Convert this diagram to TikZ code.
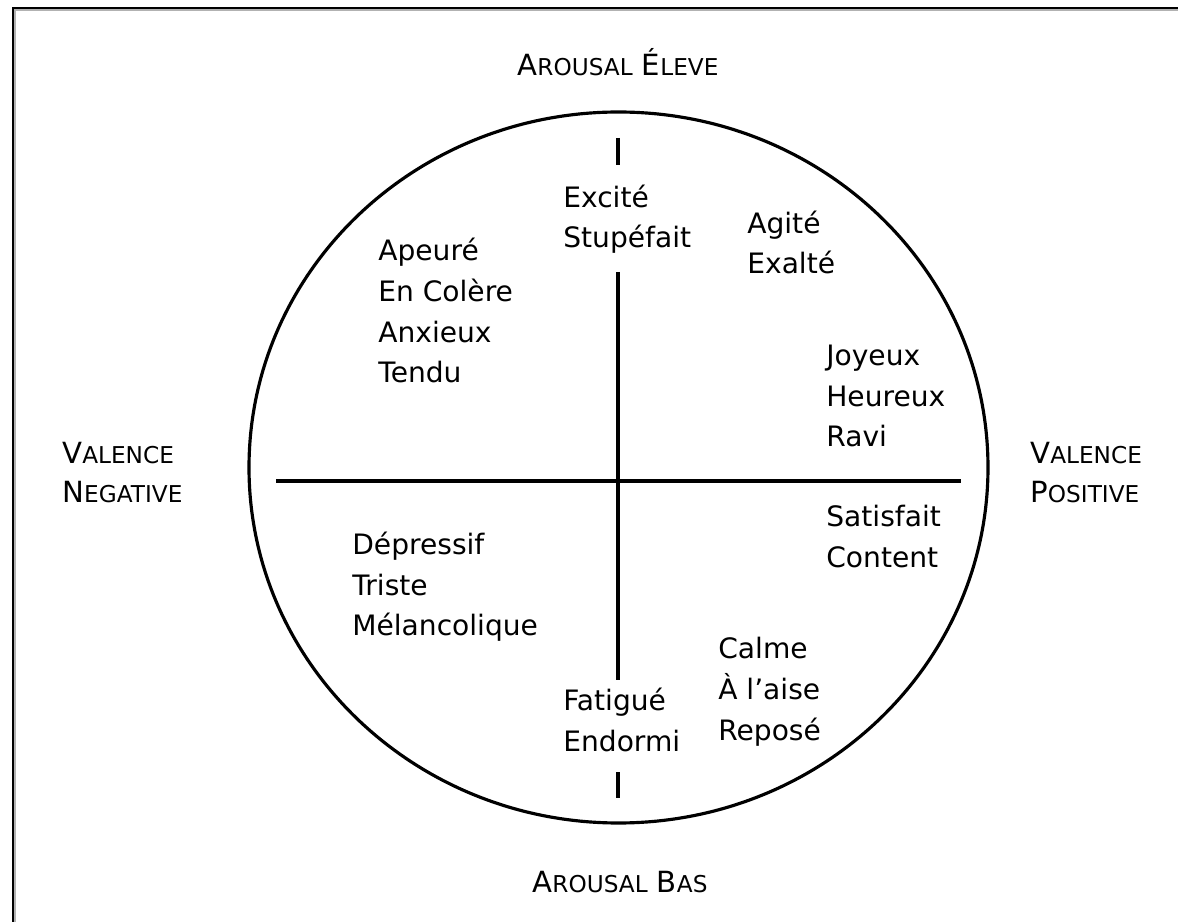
\documentclass[tikz,border=0pt]{standalone}
\usepackage{fontspec}
\setmainfont{DejaVu Sans}
\usepackage{tikz}
\usetikzlibrary{positioning}
\newcommand{\smc}[2]{#1{\fontsize{13.2}{16}\selectfont #2}}

\begin{document}
\begin{tikzpicture}[x=0.02cm, y=-0.02cm,
  word/.style={anchor=base west, align=left, inner sep=0pt, font=\fontsize{16}{23.3}\selectfont},
  axislabel/.style={inner sep=0pt, font=\fontsize{16.6}{22.7}\selectfont}]
  \useasboundingbox (0,0) rectangle (1178,922);
  % frame
  \draw[line width=1.4pt, gray!60] (15,922) -- (15,10) -- (1178,10);
  \draw[line width=1.7pt] (13,922) -- (13,8) -- (1178,8);
  % circle and axes
  \draw[line width=1.8pt] (618.5,467.5) ellipse (369.5 and 355.5);
  \draw[line width=1.8pt] (276,481) -- (961,481);
  \draw[line width=1.8pt] (618,272) -- (618,680);
  \draw[line width=1.8pt] (618,138) -- (618,165);
  \draw[line width=1.8pt] (618,772) -- (618,798);
  % axis labels
  \node[axislabel, anchor=base] (hi) at (618,76) {\smc{A}{ROUSAL} \smc{É}{LEVE}};
  \node[axislabel, anchor=base] (lo) at (620,892) {\smc{A}{ROUSAL} \smc{B}{AS}};
  \node[axislabel, anchor=base west, align=left] (neg) at (62,503) {\smc{V}{ALENCE}\\\smc{N}{EGATIVE}};
  \node[axislabel, anchor=base west, align=left] (pos) at (1030,503) {\smc{V}{ALENCE}\\\smc{P}{OSITIVE}};
  % emotions (anchored on the last line)
  \node[word] (excite) at (563,248) {Excité\\Stupéfait};
  \node[word] (agite) at (747,274) {Agité\\Exalté};
  \node[word] (apeure) at (378,383) {Apeuré\\En Colère\\Anxieux\\Tendu};
  \node[word] (joyeux) at (826,447) {Joyeux\\Heureux\\Ravi};
  \node[word] (satisf) at (826,567) {Satisfait\\Content};
  \node[word] (depress) at (352,636) {Dépressif\\Triste\\Mélancolique};
  \node[word] (calme) at (718,740) {Calme\\À l'aise\\Reposé};
  \node[word] (fatigue) at (563,751) {Fatigué\\Endormi};
\end{tikzpicture}
\end{document}
